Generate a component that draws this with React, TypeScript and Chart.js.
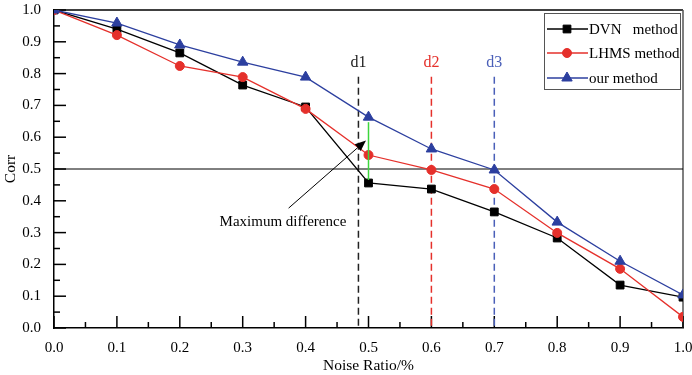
import { useEffect, useRef } from "react";
import { Chart, registerables } from "chart.js";
Chart.register(...registerables);

const noiseRatios = [0, 0.1, 0.2, 0.3, 0.4, 0.5, 0.6, 0.7, 0.8, 0.9, 1.0];
const dvnValues = [1.0, 0.94, 0.865, 0.764, 0.695, 0.456, 0.437, 0.365, 0.283, 0.135, 0.097];
const lhmsValues = [1.0, 0.921, 0.824, 0.789, 0.689, 0.544, 0.497, 0.437, 0.299, 0.186, 0.035];
const ourValues = [1.0, 0.959, 0.89, 0.836, 0.789, 0.663, 0.563, 0.497, 0.333, 0.21, 0.104];
const seriesNames = ["DVN   method", "LHMS method", "our method"];
const seriesColors = ["#000000", "#e5302b", "#2c3f9f"];

const markerLabels = ["d1", "d2", "d3"];
const markerXs = [0.484, 0.6, 0.7];
const markerColors = ["#222222", "#e5302b", "#4a5fb8"];
const markerTop = 0.79;
const markerLabelY = 0.835;
const thresholdY = 0.5;
const diffX = 0.5;
const diffIndex = 5;
const arrowFrom = [0.373, 0.377];
const arrowTo = [0.496, 0.59];
const noteText = "Maximum difference";
const notePos = [0.364, 0.333];

const FONT = "'Liberation Serif', 'Times New Roman', serif";

function drawMarker(ctx: CanvasRenderingContext2D, style: string, r: number, x: number, y: number) {
  ctx.beginPath();
  if (style === "rect") {
    const s = Math.SQRT1_2 * r;
    ctx.rect(x - s, y - s, 2 * s, 2 * s);
  } else if (style === "circle") {
    ctx.arc(x, y, r, 0, Math.PI * 2);
  } else {
    for (let k = 0; k < 3; k++) {
      const a = -Math.PI / 2 + (k * 2 * Math.PI) / 3;
      const px = x + r * Math.cos(a), py = y + r * Math.sin(a);
      if (k === 0) ctx.moveTo(px, py);
      else ctx.lineTo(px, py);
    }
    ctx.closePath();
  }
  ctx.fill();
  ctx.stroke();
}

export default function App() {
  const ref = useRef<HTMLCanvasElement | null>(null);
  useEffect(() => {
    if (!ref.current) return;
    const mk = (label: string, data: number[], color: string, style: any, radius: number, order: number) => ({
      label,
      data: noiseRatios.map((x, i) => ({ x, y: data[i] })),
      borderColor: color,
      backgroundColor: color,
      pointBackgroundColor: color,
      pointBorderColor: color,
      pointStyle: style,
      pointRadius: radius,
      borderWidth: 1.3,
      pointBorderWidth: 1,
      order,
    });
    const annot = {
      id: "annot",
      beforeDatasetsDraw(chart: any) {
        const { ctx, chartArea: a, scales } = chart;
        const xs = scales.x, ys = scales.y;
        ctx.save();
        ctx.strokeStyle = "#000";
        ctx.lineWidth = 1.5;
        ctx.beginPath();
        ctx.moveTo(a.left, a.top);
        ctx.lineTo(a.right, a.top);
        ctx.stroke();
        ctx.strokeStyle = "#555";
        ctx.lineWidth = 1.5;
        ctx.beginPath();
        ctx.moveTo(a.right, a.top);
        ctx.lineTo(a.right, a.bottom);
        ctx.stroke();
        ctx.strokeStyle = "#000";
        ctx.lineWidth = 1;
        ctx.beginPath();
        ctx.moveTo(a.left, ys.getPixelForValue(thresholdY));
        ctx.lineTo(a.right, ys.getPixelForValue(thresholdY));
        ctx.stroke();
        ctx.lineWidth = 1.5;
        ctx.strokeStyle = "#000";
        for (let i = 0; i <= 20; i++) {
          const v = i / 20;
          const len = i % 2 === 0 ? 12 : 6;
          const py = ys.getPixelForValue(v);
          ctx.beginPath();
          ctx.moveTo(a.left, py);
          ctx.lineTo(a.left + len, py);
          ctx.stroke();
          const px = xs.getPixelForValue(v);
          ctx.beginPath();
          ctx.moveTo(px, a.bottom);
          ctx.lineTo(px, a.bottom - len);
          ctx.stroke();
        }
        ctx.lineWidth = 1.5;
        ctx.setLineDash([7, 4]);
        markerXs.forEach((mx, i) => {
          const px = xs.getPixelForValue(mx);
          ctx.strokeStyle = markerColors[i];
          ctx.beginPath();
          ctx.moveTo(px, ys.getPixelForValue(markerTop));
          ctx.lineTo(px, a.bottom);
          ctx.stroke();
        });
        ctx.setLineDash([]);
        ctx.font = `16px ${FONT}`;
        ctx.textAlign = "center";
        ctx.textBaseline = "middle";
        markerXs.forEach((mx, i) => {
          ctx.fillStyle = markerColors[i];
          ctx.fillText(markerLabels[i], xs.getPixelForValue(mx), ys.getPixelForValue(markerLabelY));
        });
        ctx.restore();
      },
      afterDatasetsDraw(chart: any) {
        const { ctx, scales } = chart;
        const xs = scales.x, ys = scales.y;
        ctx.save();
        ctx.strokeStyle = "#3dd63d";
        ctx.lineWidth = 1.5;
        ctx.beginPath();
        ctx.moveTo(xs.getPixelForValue(diffX), ys.getPixelForValue(ourValues[diffIndex]) + 5);
        ctx.lineTo(xs.getPixelForValue(diffX), ys.getPixelForValue(dvnValues[diffIndex]) - 3);
        ctx.stroke();
        const x1 = xs.getPixelForValue(arrowFrom[0]), y1 = ys.getPixelForValue(arrowFrom[1]);
        const x2 = xs.getPixelForValue(arrowTo[0]), y2 = ys.getPixelForValue(arrowTo[1]);
        const ang = Math.atan2(y2 - y1, x2 - x1);
        const hl = 11, hw = 4.5;
        const bx = x2 - hl * Math.cos(ang), by = y2 - hl * Math.sin(ang);
        ctx.strokeStyle = "#000";
        ctx.lineWidth = 1;
        ctx.beginPath();
        ctx.moveTo(x1, y1);
        ctx.lineTo(bx, by);
        ctx.stroke();
        ctx.fillStyle = "#000";
        ctx.beginPath();
        ctx.moveTo(x2, y2);
        ctx.lineTo(bx + hw * Math.sin(ang), by - hw * Math.cos(ang));
        ctx.lineTo(bx - hw * Math.sin(ang), by + hw * Math.cos(ang));
        ctx.closePath();
        ctx.fill();
        ctx.font = `15px ${FONT}`;
        ctx.textAlign = "center";
        ctx.textBaseline = "middle";
        ctx.fillText(noteText, xs.getPixelForValue(notePos[0]), ys.getPixelForValue(notePos[1]));
        ctx.restore();
      },
      afterDraw(chart: any) {
        const { ctx } = chart;
        ctx.save();
        const lx = 544, ly = 13, lw = 136, lh = 76;
        ctx.fillStyle = "#fff";
        ctx.fillRect(lx, ly, lw, lh);
        ctx.strokeStyle = "#555";
        ctx.lineWidth = 1;
        ctx.strokeRect(lx + 0.5, ly + 0.5, lw, lh);
        ctx.font = `15px ${FONT}`;
        ctx.textAlign = "left";
        ctx.textBaseline = "middle";
        const rows = [29, 53, 78];
        chart.data.datasets.forEach((ds: any, i: number) => {
          const y = rows[i];
          ctx.strokeStyle = ds.borderColor;
          ctx.lineWidth = 1.3;
          ctx.beginPath();
          ctx.moveTo(547, y);
          ctx.lineTo(588, y);
          ctx.stroke();
          ctx.fillStyle = ds.backgroundColor;
          ctx.lineWidth = 1;
          drawMarker(ctx, ds.pointStyle, ds.pointRadius, 567, y);
          ctx.fillStyle = "#000";
          ctx.fillText(ds.label, 589, y + 1);
        });
        ctx.restore();
      },
    };
    const chart = new Chart(ref.current, {
      type: "line",
      data: {
        datasets: [
          mk(seriesNames[0], dvnValues, seriesColors[0], "rect", 5.5, 3),
          mk(seriesNames[1], lhmsValues, seriesColors[1], "circle", 4.5, 2),
          mk(seriesNames[2], ourValues, seriesColors[2], "triangle", 6, 1),
        ] as any,
      },
      options: {
        responsive: false,
        animation: false,
        layout: { padding: { left: 0, top: 10, right: 9, bottom: 0 } },
        plugins: { legend: { display: false }, tooltip: { enabled: false } },
        scales: {
          x: {
            type: "linear",
            min: 0,
            max: 1,
            grid: { display: false, drawTicks: false },
            border: { display: true, color: "#000", width: 1.5 },
            ticks: {
              stepSize: 0.1,
              autoSkip: false,
              maxRotation: 0,
              padding: 11,
              color: "#000",
              font: { family: FONT, size: 15 },
              callback: (v: any) => Number(v).toFixed(1),
            },
            title: { display: true, text: "Noise Ratio/%", color: "#000", font: { family: FONT, size: 15.5 }, padding: { top: 0, bottom: 0 } },
            afterFit: (s: any) => {
              s.height = 47;
              s.paddingLeft = 0;
              s.paddingRight = 0;
            },
          },
          y: {
            type: "linear",
            min: 0,
            max: 1,
            grid: { display: false, drawTicks: false },
            border: { display: true, color: "#000", width: 1.5 },
            ticks: {
              stepSize: 0.1,
              autoSkip: false,
              padding: 13,
              color: "#000",
              font: { family: FONT, size: 15 },
              callback: (v: any) => Number(v).toFixed(1),
            },
            title: { display: true, text: "Corr", color: "#000", font: { family: FONT, size: 15.5 }, padding: { top: 2, bottom: 0 } },
            afterFit: (s: any) => {
              s.width = 54;
              s.paddingTop = 0;
              s.paddingBottom = 0;
            },
          },
        },
      },
      plugins: [annot],
    });
    return () => chart.destroy();
  }, []);
  return (
    <div style={{ position: "fixed", left: 0, top: 0, width: 692, height: 375, background: "#fff" }}>
      <canvas ref={ref} width={692} height={375} style={{ display: "block" }} />
    </div>
  );
}
